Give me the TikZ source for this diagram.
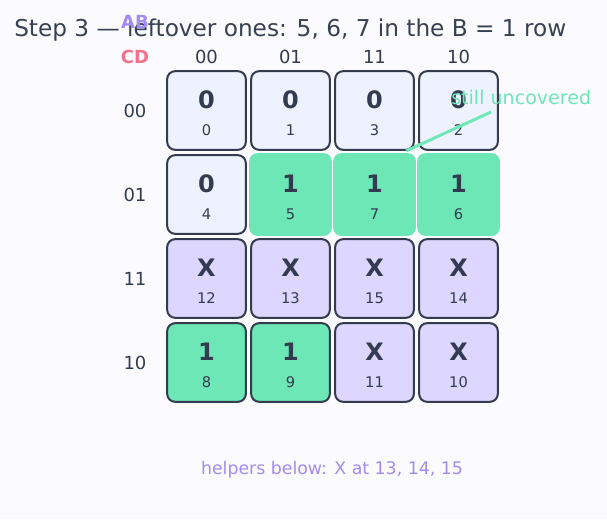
\documentclass[tikz,border=0pt]{standalone}
\usepackage{fontspec}
\setmainfont{DejaVu Sans}
\usetikzlibrary{positioning}
\definecolor{kmapInk}{HTML}{323B50}
\definecolor{kmapTitle}{HTML}{374151}
\definecolor{kmapEdge}{HTML}{343B4E}
\definecolor{kmapPale}{HTML}{EEF2FF}
\definecolor{kmapDont}{HTML}{DDD6FE}
\definecolor{kmapGreen}{HTML}{6EE7B7}
\definecolor{kmapPurple}{HTML}{A48BF0}
\definecolor{kmapPink}{HTML}{F2718C}
\definecolor{kmapBack}{HTML}{FBFBFE}
\tikzset{
  cell/.style={draw=kmapEdge, line width=1.5pt, rounded corners=6pt,
    minimum width=59pt, minimum height=59pt, inner sep=0pt},
  zero cell/.style={cell, fill=kmapPale},
  dont cell/.style={cell, fill=kmapDont},
  one cell/.style={cell, fill=kmapGreen},
  hit cell/.style={fill=kmapGreen, rounded corners=6pt,
    minimum width=62pt, minimum height=62pt, inner sep=0pt},
  val/.style={font=\fontsize{18}{20}\selectfont\bfseries, text=kmapInk,
    inner sep=0pt},
  idx/.style={font=\fontsize{11}{13}\selectfont, text=kmapInk, inner sep=0pt},
  axis label/.style={font=\fontsize{13.5}{15}\selectfont, text=kmapInk,
    inner sep=0pt},
  leader/.style={draw=kmapGreen, line width=2.2pt}
}
\begin{document}
\begin{tikzpicture}[x=0.75pt, y=-0.75pt]
  \fill[kmapBack] (0,0) rectangle (607,519);
  \useasboundingbox (0,0) rectangle (607,519);
  \node[anchor=west, font=\fontsize{17.4}{20}\selectfont, text=kmapTitle,
    inner sep=0pt] (title) at (14,30)
    {Step 3 — leftover ones: 5, 6, 7 in the B = 1 row};
  \node[font=\fontsize{13.5}{15}\selectfont\bfseries, text=kmapPurple,
    inner sep=0pt] (ab) at (135,22) {AB};
  \node[font=\fontsize{13.5}{15}\selectfont\bfseries, text=kmapPink,
    inner sep=0pt] (cd) at (135,57) {CD};
  % column and row labels
  \node[axis label] (col0) at (206.5,57) {00};
  \node[axis label] (col1) at (290.5,57) {01};
  \node[axis label] (col2) at (374.5,57) {11};
  \node[axis label] (col3) at (458.5,57) {10};
  \node[axis label] (row0) at (135,111) {00};
  \node[axis label] (row1) at (135,195) {01};
  \node[axis label] (row2) at (135,279) {11};
  \node[axis label] (row3) at (135,363) {10};
  % row CD = 00
  \node[zero cell] (c0) at (206.5,110.5) {};
  \node[val] (v0) at (206.5,100) {0}; \node[idx] (i0) at (206.5,130.5) {0};
  \node[zero cell] (c1) at (290.5,110.5) {};
  \node[val] (v1) at (290.5,100) {0}; \node[idx] (i1) at (290.5,130.5) {1};
  \node[zero cell] (c3) at (374.5,110.5) {};
  \node[val] (v3) at (374.5,100) {0}; \node[idx] (i3) at (374.5,130.5) {3};
  \node[zero cell] (c2) at (458.5,110.5) {};
  \node[val] (v2) at (458.5,100) {0}; \node[idx] (i2) at (458.5,130.5) {2};
  % row CD = 01
  \node[zero cell] (c4) at (206.5,194.5) {};
  \node[val] (v4) at (206.5,184) {0}; \node[idx] (i4) at (206.5,214.5) {4};
  \node[hit cell] (c5) at (290.5,194.5) {};
  \node[val] (v5) at (290.5,184) {1}; \node[idx] (i5) at (290.5,214.5) {5};
  \node[hit cell] (c7) at (374.5,194.5) {};
  \node[val] (v7) at (374.5,184) {1}; \node[idx] (i7) at (374.5,214.5) {7};
  \node[hit cell] (c6) at (458.5,194.5) {};
  \node[val] (v6) at (458.5,184) {1}; \node[idx] (i6) at (458.5,214.5) {6};
  % row CD = 11
  \node[dont cell] (c12) at (206.5,278.5) {};
  \node[val] (v12) at (206.5,268) {X}; \node[idx] (i12) at (206.5,298.5) {12};
  \node[dont cell] (c13) at (290.5,278.5) {};
  \node[val] (v13) at (290.5,268) {X}; \node[idx] (i13) at (290.5,298.5) {13};
  \node[dont cell] (c15) at (374.5,278.5) {};
  \node[val] (v15) at (374.5,268) {X}; \node[idx] (i15) at (374.5,298.5) {15};
  \node[dont cell] (c14) at (458.5,278.5) {};
  \node[val] (v14) at (458.5,268) {X}; \node[idx] (i14) at (458.5,298.5) {14};
  % row CD = 10
  \node[one cell] (c8) at (206.5,362.5) {};
  \node[val] (v8) at (206.5,352) {1}; \node[idx] (i8) at (206.5,382.5) {8};
  \node[one cell] (c9) at (290.5,362.5) {};
  \node[val] (v9) at (290.5,352) {1}; \node[idx] (i9) at (290.5,382.5) {9};
  \node[dont cell] (c11) at (374.5,362.5) {};
  \node[val] (v11) at (374.5,352) {X}; \node[idx] (i11) at (374.5,382.5) {11};
  \node[dont cell] (c10) at (458.5,362.5) {};
  \node[val] (v10) at (458.5,352) {X}; \node[idx] (i10) at (458.5,382.5) {10};
  % callout
  \coordinate (leadStart) at (491,112);
  \coordinate (leadEnd) at (406,151);
  \draw[leader] (leadStart) -- (leadEnd);
  \node[anchor=west, font=\fontsize{14.3}{16}\selectfont, text=kmapGreen,
    inner sep=0pt] (note) at (451,97) {still uncovered};
  \node[font=\fontsize{13}{15}\selectfont, text=kmapPurple,
    inner sep=0pt] (helpers) at (332,470) {helpers below: X at 13, 14, 15};
\end{tikzpicture}
\end{document}
